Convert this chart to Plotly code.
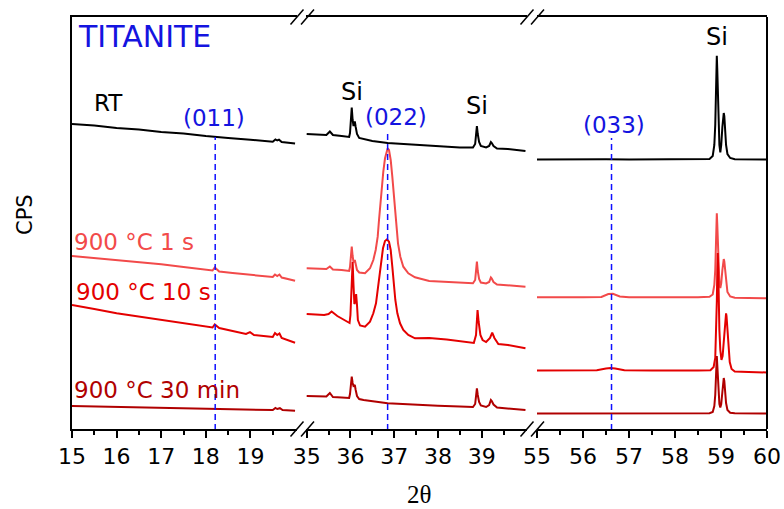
import plotly.graph_objects as go

# ---------------------------------------------------------------------------
# XRD patterns of titanite (offset stacked), three 2-theta windows
# ---------------------------------------------------------------------------

# window 1: 15-20 deg
tt_rt_1 = [15.0, 15.5, 16.0, 16.5, 17.0, 17.5, 18.0, 18.2, 18.5, 19.0, 19.5, 19.56, 19.6, 19.64, 19.7, 20.0]
cps_rt_1 = [306, 304.5, 302, 300.5, 298, 296.5, 294, 293.5, 292, 290.2, 288.3, 290.5, 289.5, 290.3, 288, 286.5]

tt_1s_1 = [15.0, 15.5, 16.0, 16.5, 17.0, 17.5, 18.0, 18.15, 18.2, 18.3, 18.6, 19.0, 19.5, 19.55, 19.6, 19.65, 19.7, 20.0]
cps_1s_1 = [174, 172, 170, 168, 165.7, 163, 160.5, 159.5, 162.5, 158.5, 157, 155.5, 153, 155.5, 154, 155.5, 152.5, 149.3]

tt_10s_1 = [15.0, 15.3, 15.5, 16.0, 16.5, 17.0, 17.5, 18.0, 18.15, 18.2, 18.3, 18.6, 18.9, 18.99, 19.08,
            19.4, 19.5, 19.55, 19.6, 19.65, 19.7, 20.0]
cps_10s_1 = [125, 123, 121, 116.7, 113.5, 110, 106.5, 103.3, 102.5, 105.5, 102, 99, 96, 97.8, 95,
             93.5, 93, 97, 95, 96.5, 92, 87.3]

tt_30m_1 = [15.0, 16.0, 17.0, 18.0, 18.5, 19.0, 19.5, 19.56, 19.6, 19.66, 19.72, 20.0]
cps_30m_1 = [24, 23, 22, 21, 20.7, 20.4, 20, 22, 21, 21.8, 20, 19.3]

# window 2: 35-40 deg
tt_rt_2 = [35.0, 35.2, 35.45, 35.53, 35.6, 35.8, 35.97, 35.99, 36.01, 36.03, 36.05, 36.07, 36.09, 36.1,
           36.12, 36.15, 36.2, 36.5, 36.85, 37.2, 37.5, 38.0, 38.5, 38.8, 38.85, 38.87, 38.89, 38.91,
           38.94, 38.98, 39.1, 39.17, 39.21, 39.23, 39.27, 39.35, 39.6, 40.0]
cps_rt_2 = [296, 295.5, 295, 298.5, 295, 294, 293, 297, 310, 322.5, 310, 304, 307, 308.5,
            303, 296, 292, 289, 287, 286, 285, 284, 282.5, 282.5, 286, 295, 304, 296,
            288, 284, 282.5, 284, 288, 287, 284, 281.5, 281, 279]

tt_1s_2 = [35.0, 35.2, 35.45, 35.53, 35.6, 35.8, 35.97, 35.99, 36.01, 36.03, 36.05, 36.07, 36.09, 36.1,
           36.12, 36.15, 36.2, 36.333, 36.447, 36.523, 36.577, 36.623, 36.653, 36.683, 36.714, 36.751,
           36.79, 36.829, 36.851, 36.881, 36.92, 36.957, 36.989, 37.018, 37.048, 37.087, 37.14, 37.208,
           37.322, 37.475, 37.8, 38.2, 38.5, 38.8, 38.85, 38.87, 38.89, 38.91, 38.94, 38.98, 39.1,
           39.17, 39.21, 39.23, 39.27, 39.35, 39.6, 40.0]
cps_1s_2 = [161.7, 161.3, 161, 163.5, 160.5, 160, 159, 163, 174, 183.3, 174, 168, 169, 170,
            166, 160, 157.5, 156.7, 161.7, 170, 180, 193.3, 210, 226.7, 243.3, 258.3,
            271.7, 280, 281.7, 280, 270, 253.3, 236.7, 220, 203.3, 186.7, 173.3, 163.3,
            156.7, 152.7, 149, 148, 147, 146.8, 150, 158, 168.3, 159,
            151, 147.5, 146.5, 148, 152.5, 151.5, 148, 145.5, 144.5, 143.3]

tt_10s_2 = [35.0, 35.2, 35.4, 35.5, 35.57, 35.7, 35.85, 35.98, 36.0, 36.02, 36.05, 36.07, 36.09, 36.11,
            36.13, 36.15, 36.17, 36.22, 36.333, 36.447, 36.523, 36.584, 36.623, 36.66, 36.698, 36.744,
            36.79, 36.835, 36.881, 36.92, 36.957, 36.989, 37.026, 37.072, 37.133, 37.208, 37.322, 37.475,
            37.8, 38.2, 38.5, 38.82, 38.87, 38.89, 38.905, 38.93, 38.97, 39.02, 39.1, 39.19, 39.24, 39.29,
            39.38, 39.6, 40.0]
cps_10s_2 = [116, 115.5, 115, 116, 118.5, 114, 110, 107, 115, 140, 168, 145, 126, 128,
             136, 125, 110, 104.5, 103.3, 108.3, 116.7, 126.7, 140, 156.7, 170, 181.7,
             189, 190.7, 188.3, 180, 163.3, 146.7, 130, 116.7, 106.7, 100, 95, 91.7,
             92, 90.5, 89, 87, 95, 110, 120, 108, 95, 90, 88, 92, 97.3, 92,
             86, 85, 81.7]

tt_30m_2 = [35.0, 35.2, 35.45, 35.53, 35.6, 35.8, 35.97, 35.99, 36.01, 36.03, 36.05, 36.07, 36.09, 36.1,
            36.12, 36.15, 36.2, 36.3, 36.85, 37.5, 38.0, 38.5, 38.8, 38.85, 38.87, 38.89, 38.91, 38.94,
            38.98, 39.1, 39.17, 39.21, 39.23, 39.27, 39.35, 39.6, 40.0]
cps_30m_2 = [34, 33.8, 33.5, 37, 33, 32.5, 32, 36, 46, 53.3, 47, 44, 44.5, 45,
             40, 34, 31, 30, 26.7, 25, 24.2, 23.5, 23, 26, 34, 41.7, 35, 28,
             24.5, 23, 25, 30, 29, 25.5, 22.5, 21.5, 20]

# window 3: 55-60 deg
tt_rt_3 = [55.0, 55.5, 56.0, 56.5, 57.0, 57.5, 58.0, 58.5, 58.75, 58.82, 58.855, 58.875, 58.89, 58.9,
           58.909, 58.918, 58.93, 58.945, 58.965, 58.985, 59.005, 59.03, 59.05, 59.06, 59.072, 59.09,
           59.11, 59.14, 59.2, 59.3, 59.6, 60.0]
cps_rt_3 = [270.5, 270.7, 270.5, 270.8, 270.5, 270.7, 270.5, 270.6, 271, 274, 285, 305, 335, 362,
            374.3, 362, 335, 305, 285, 277.5, 285, 303, 315, 317, 314, 300,
            285, 276, 272, 270.8, 270.6, 270.5]

tt_1s_3 = [55.0, 55.5, 56.0, 56.4, 56.55, 56.65, 56.8, 57.0, 57.5, 58.0, 58.5, 58.75, 58.82, 58.855,
           58.875, 58.89, 58.9, 58.909, 58.918, 58.93, 58.945, 58.965, 58.985, 59.005, 59.03, 59.05,
           59.06, 59.072, 59.09, 59.11, 59.14, 59.2, 59.3, 59.6, 60.0]
cps_1s_3 = [132.7, 132.5, 132.7, 133, 136, 136.3, 133.5, 132.7, 132.5, 132.7, 132.8, 133.2, 135.5, 145,
            160, 185, 207, 216.7, 207, 185, 162, 147, 142, 147, 160, 169,
            171, 168.5, 160, 148, 138, 133.5, 132.2, 132, 131.7]

tt_10s_3 = [55.0, 55.5, 56.0, 56.3, 56.5, 56.6, 56.7, 56.9, 57.5, 58.0, 58.5, 58.77, 58.84, 58.875,
            58.895, 58.91, 58.92, 58.93, 58.94, 58.95, 58.965, 58.985, 59.01, 59.035, 59.06, 59.085,
            59.1, 59.11, 59.12, 59.14, 59.165, 59.19, 59.23, 59.3, 59.6, 60.0]
cps_10s_3 = [59.5, 59.5, 59.7, 59.8, 61.5, 62, 61.5, 59.8, 59.5, 59.3, 59.4, 59.8, 63, 72,
             95, 130, 160, 177, 160, 130, 100, 80, 70, 74, 90, 108,
             115, 116.7, 114, 102, 80, 68, 61, 58.5, 58, 57.5]

tt_30m_3 = [55.0, 56.0, 57.0, 58.0, 58.75, 58.82, 58.855, 58.875, 58.89, 58.9, 58.909, 58.918, 58.93,
            58.945, 58.965, 58.985, 59.005, 59.03, 59.05, 59.06, 59.072, 59.09, 59.11, 59.14, 59.2,
            59.3, 60.0]
cps_30m_3 = [16.5, 16.6, 16.7, 16.6, 16.8, 18, 24, 35, 52, 66, 74, 66, 52,
             36, 26, 22.5, 26, 38, 49, 52, 49, 38, 27, 20, 17.2,
             16.7, 16.5]

# titanite reflections (dashed markers) and Si reflections
hkl_labels = ["(011)", "(022)", "(033)"]
hkl_pos = [18.21, 36.85, 56.62]
hkl_label_x = [18.19, 37.04, 56.67]
hkl_label_y = [312, 313.3, 305]
hkl_line_top = [293, 300, 292]

si_pos = [36.03, 38.89, 58.91]
si_label_y = [338.3, 324, 393.3]

# tick labels per window
ticks_1 = [15, 16, 17, 18, 19]
ticks_2 = [35, 36, 37, 38, 39]
ticks_3 = [55, 56, 57, 58, 59, 60]

# ---------------------------------------------------------------------------
W, H = 784, 509
ML, MR, MT, MB = 72, 17, 17, 80
PW, PH = W - ML - MR, H - MT - MB


def paper(px, py):
    """Figure pixel position -> paper coordinates."""
    return (px - ML) / PW, (H - MB - py) / PH


series = [
    ("RT", "#000000", [(tt_rt_1, cps_rt_1), (tt_rt_2, cps_rt_2), (tt_rt_3, cps_rt_3)]),
    ("900 °C 1 s", "#f24a4a", [(tt_1s_1, cps_1s_1), (tt_1s_2, cps_1s_2), (tt_1s_3, cps_1s_3)]),
    ("900 °C 10 s", "#e40000", [(tt_10s_1, cps_10s_1), (tt_10s_2, cps_10s_2), (tt_10s_3, cps_10s_3)]),
    ("900 °C 30 min", "#b00000", [(tt_30m_1, cps_30m_1), (tt_30m_2, cps_30m_2), (tt_30m_3, cps_30m_3)]),
]
axes = ["x", "x2", "x3"]

fig = go.Figure()
for name, color, parts in series:
    for ax, (xs, ys) in zip(axes, parts):
        fig.add_trace(go.Scatter(
            x=xs, y=ys, mode="lines", xaxis=ax, yaxis="y", name=name,
            line=dict(color=color, width=2.0), showlegend=False, hoverinfo="skip",
        ))

# dashed titanite reflection markers
for ax, pos, top in zip(axes, hkl_pos, hkl_line_top):
    fig.add_trace(go.Scatter(
        x=[pos, pos], y=[0, top], mode="lines", xaxis=ax, yaxis="y",
        line=dict(color="#1010ff", width=1.5, dash="6px,4px"), showlegend=False, hoverinfo="skip",
    ))

FONT = "DejaVu Sans"
BLUE = "#1414e0"
annotations = []

annotations.append(dict(x=15.1, y=394, xref="x", yref="y", text="TITANITE", showarrow=False,
                        xanchor="left", yanchor="middle", font=dict(family=FONT, size=30, color=BLUE)))
label_pos = {"RT": (15.45, 327), "900 °C 1 s": (15.0, 188.3),
             "900 °C 10 s": (15.05, 138.3), "900 °C 30 min": (15.0, 40)}
for name, color, _ in series:
    lx, ly = label_pos[name]
    annotations.append(dict(x=lx, y=ly, xref="x", yref="y", text=name, showarrow=False,
                            xanchor="left", yanchor="middle",
                            font=dict(family=FONT, size=23, color=color)))

for ax, txt, lx, ly in zip(axes, hkl_labels, hkl_label_x, hkl_label_y):
    annotations.append(dict(x=lx, y=ly, xref=ax, yref="y", text=txt, showarrow=False,
                            xanchor="center", yanchor="middle",
                            font=dict(family=FONT, size=23, color=BLUE)))

for ax, sx, sy in zip(["x2", "x2", "x3"], si_pos, si_label_y):
    annotations.append(dict(x=sx, y=sy, xref=ax, yref="y", text="Si", showarrow=False,
                            xanchor="center", yanchor="middle",
                            font=dict(family=FONT, size=24, color="#000000")))

cx, cy = paper(25, 215)
annotations.append(dict(x=cx, y=cy, xref="paper", yref="paper", text="CPS", showarrow=False,
                        textangle=-90, xanchor="center", yanchor="middle",
                        font=dict(family=FONT, size=21, color="#000000")))
tx, ty = paper(419, 494)
annotations.append(dict(x=tx, y=ty, xref="paper", yref="paper", text="2θ", showarrow=False,
                        xanchor="center", yanchor="middle",
                        font=dict(family="Liberation Serif", size=25, color="#000000")))

# frame pieces: right border and axis-break slashes
shapes = [dict(type="line", xref="paper", yref="paper", x0=1, x1=1, y0=0, y1=1,
               line=dict(color="black", width=2))]
for bx in [297, 307.5, 527, 537.5]:
    for by in [MT, H - MB]:
        x0, y0 = paper(bx - 6.5, by + 7.5)
        x1, y1 = paper(bx + 6.5, by - 7.5)
        shapes.append(dict(type="line", xref="paper", yref="paper", x0=x0, y0=y0, x1=x1, y1=y1,
                           line=dict(color="black", width=1.5)))

d1 = [0.0, paper(297.3, 0)[0]]
d2 = [paper(305.5, 0)[0], paper(527, 0)[0]]
d3 = [paper(537, 0)[0], 1.0]


def xaxis(domain, rng, ticks):
    return dict(
        domain=domain, range=rng, anchor="y", automargin=False, tickmode="array", tickvals=ticks,
        ticktext=[str(t) for t in ticks], ticks="outside", ticklen=7, tickwidth=2,
        tickcolor="black", showline=True, linecolor="black", linewidth=2, mirror=True,
        showgrid=False, zeroline=False,
        tickfont=dict(family=FONT, size=22, color="black"),
        minor=dict(tickmode="array", tickvals=[t + 0.5 for t in ticks if t + 0.5 < rng[1]],
                   ticks="outside", ticklen=4, tickwidth=2, tickcolor="black", showgrid=False),
    )


fig.update_layout(
    width=W, height=H, autosize=False, margin=dict(l=ML, r=MR, t=MT, b=MB, autoexpand=False),
    paper_bgcolor="white", plot_bgcolor="white",
    xaxis=xaxis(d1, [15.0, 20.05], ticks_1),
    xaxis2=xaxis(d2, [34.973, 40.035], ticks_2),
    xaxis3=xaxis(d3, [55.0, 60.0], ticks_3),
    yaxis=dict(domain=[0, 1], range=[1, 413], anchor="x", automargin=False, showline=True,
               linecolor="black", linewidth=2, ticks="", showticklabels=False, showgrid=False,
               zeroline=False),
    annotations=annotations, shapes=shapes,
)

fig.write_html("out.html", config={"responsive": False})
